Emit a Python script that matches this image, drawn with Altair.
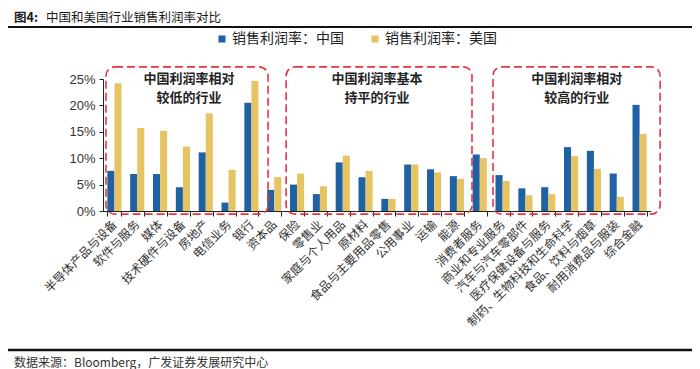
import altair as alt
import pandas as pd

cats = ["半导体产品与设备", "软件与服务", "媒体", "技术硬件与设备", "房地产", "电信业务", "银行", "资本品",
        "保险", "零售业", "家庭与个人用品", "原材料", "食品与主要用品零售", "公用事业", "运输", "能源",
        "消费者服务", "商业和专业服务", "汽车与汽车零部件", "医疗保健设备与服务", "制药、生物科技和生命科学",
        "食品、饮料与烟草", "耐用消费品与服装", "综合金融"]
cn = [7.6, 7.0, 7.0, 4.5, 11.1, 1.6, 20.5, 4.0, 5.0, 3.2, 9.2, 6.4, 2.3, 8.8, 7.9, 6.6,
      10.7, 6.8, 4.3, 4.5, 12.1, 11.4, 7.1, 20.1]
us = [24.2, 15.7, 15.2, 12.2, 18.5, 7.8, 24.6, 6.4, 7.1, 4.7, 10.5, 7.6, 2.3, 8.8, 7.3, 6.1,
      10.0, 5.7, 3.0, 3.2, 10.4, 8.0, 2.7, 14.6]
series = ["销售利润率：中国", "销售利润率：美国"]
colors = ["#1F62A3", "#E6C464"]
y_ticks = [0, 5, 10, 15, 20, 25]

box_line1 = ["中国利润率相对", "中国利润率基本", "中国利润率相对"]
box_line2 = ["较低的行业", "持平的行业", "较高的行业"]
box_x0 = [0.13, 8.02, 17.08]
box_x1 = [7.23, 16.16, 24.4]
box_y0 = [-0.6, -0.6, -0.6]
box_y1 = [27.3, 27.3, 27.3]
box_cx = [3.77, 12.0, 20.75]
line1_y = [25.0, 25.0, 25.0]
line2_y = [21.4, 21.4, 21.4]

title_a = "图4:"
title_b = "中国和美国行业销售利润率对比"
source = "数据来源：Bloomberg，广发证券发展研究中心"

CJK = "Noto Sans CJK SC"
LAT = "Liberation Sans"

rows = []
for c, a, b in zip(cats, cn, us):
    rows.append({"cat": c, "series": series[0], "val": a})
    rows.append({"cat": c, "series": series[1], "val": b})
df = pd.DataFrame(rows)

yscale = alt.Scale(domain=[0, 25], nice=False, zero=False)
xq = alt.Scale(domain=[0, 24], nice=False, zero=False)

bars = alt.Chart(df).mark_bar().encode(
    x=alt.X("cat:N", sort=cats,
            scale=alt.Scale(paddingInner=0.38, paddingOuter=0.19),
            axis=alt.Axis(title=None, labelAngle=-45, labelAlign="right", labelBaseline="middle",
                          tickBand="extent", labelFont=CJK, labelFontSize=12, labelColor="#333333",
                          labelPadding=6, labelLimit=300, domainColor="#222222", tickColor="#222222",
                          tickSize=5, labelOverlap=False)),
    xOffset=alt.XOffset("series:N", sort=series, scale=alt.Scale(paddingInner=0, paddingOuter=0)),
    y=alt.Y("val:Q", scale=yscale,
            axis=alt.Axis(title=None, values=y_ticks, labelExpr="datum.value + '%'", grid=False,
                          labelFont=LAT, labelFontSize=13, labelColor="#333333", labelPadding=4,
                          domainColor="#222222", tickColor="#222222", tickSize=4)),
    color=alt.Color("series:N", sort=series, scale=alt.Scale(domain=series, range=colors),
                    legend=alt.Legend(title=None, orient="none", legendX=112, legendY=-47,
                                      direction="horizontal", symbolType="square", symbolSize=50,
                                      symbolStrokeWidth=0, labelFont=CJK, labelFontSize=14,
                                      labelColor="#222222", columnPadding=24, labelOffset=3)),
)

bdf = pd.DataFrame({"x0": box_x0, "x1": box_x1, "y0": box_y0, "y1": box_y1,
                    "cx": box_cx, "l1": box_line1, "l2": box_line2,
                    "y1t": line1_y, "y2t": line2_y})

boxes = alt.Chart(bdf).mark_rect(fill="transparent", stroke="#E8343C", strokeWidth=1.6,
                                 strokeDash=[8, 4], cornerRadius=9).encode(
    x=alt.X("x0:Q", scale=xq, axis=None),
    x2="x1:Q",
    y=alt.Y("y0:Q", scale=yscale, axis=None),
    y2="y1:Q",
)

lab1 = alt.Chart(bdf).mark_text(font=CJK, fontSize=13, fontWeight="bold", color="#222222",
                                baseline="middle").encode(
    x=alt.X("cx:Q", scale=xq, axis=None),
    y=alt.Y("y1t:Q", scale=yscale, axis=None),
    text="l1:N",
)
lab2 = alt.Chart(bdf).mark_text(font=CJK, fontSize=13, fontWeight="bold", color="#222222",
                                baseline="middle").encode(
    x=alt.X("cx:Q", scale=xq, axis=None),
    y=alt.Y("y2t:Q", scale=yscale, axis=None),
    text="l2:N",
)

deco = pd.DataFrame({"a": [title_a], "b": [title_b], "s": [source]})
t1 = alt.Chart(deco).mark_text(align="left", baseline="middle", font=CJK, fontSize=12.5,
                               fontWeight="bold", color="#1a1a1a").encode(
    x=alt.value(-89), y=alt.value(-61), text="a:N")
t2 = alt.Chart(deco).mark_text(align="left", baseline="middle", font=CJK, fontSize=12.5,
                               color="#1a1a1a").encode(
    x=alt.value(-57), y=alt.value(-61), text="b:N")
src = alt.Chart(deco).mark_text(align="left", baseline="middle", font=CJK, fontSize=12,
                                color="#333333").encode(
    x=alt.value(-89), y=alt.value(284), text="s:N")
rule1 = alt.Chart(deco).mark_rule(color="#111111", strokeWidth=2).encode(
    x=alt.value(-100), x2=alt.value(600), y=alt.value(-52))
rule2 = alt.Chart(deco).mark_rule(color="#111111", strokeWidth=2.5).encode(
    x=alt.value(-100), x2=alt.value(600), y=alt.value(271))

chart = alt.layer(bars, boxes, lab1, lab2, t1, t2, src, rule1, rule2).resolve_scale(
    x="independent", y="independent"
).properties(
    width=548, height=132,
    autosize=alt.AutoSizeParams(type="none"),
    padding={"left": 95, "top": 71, "right": 41, "bottom": 158},
).configure_view(stroke=None)

chart.save("out.html", embed_options={"renderer": "svg", "actions": False})
